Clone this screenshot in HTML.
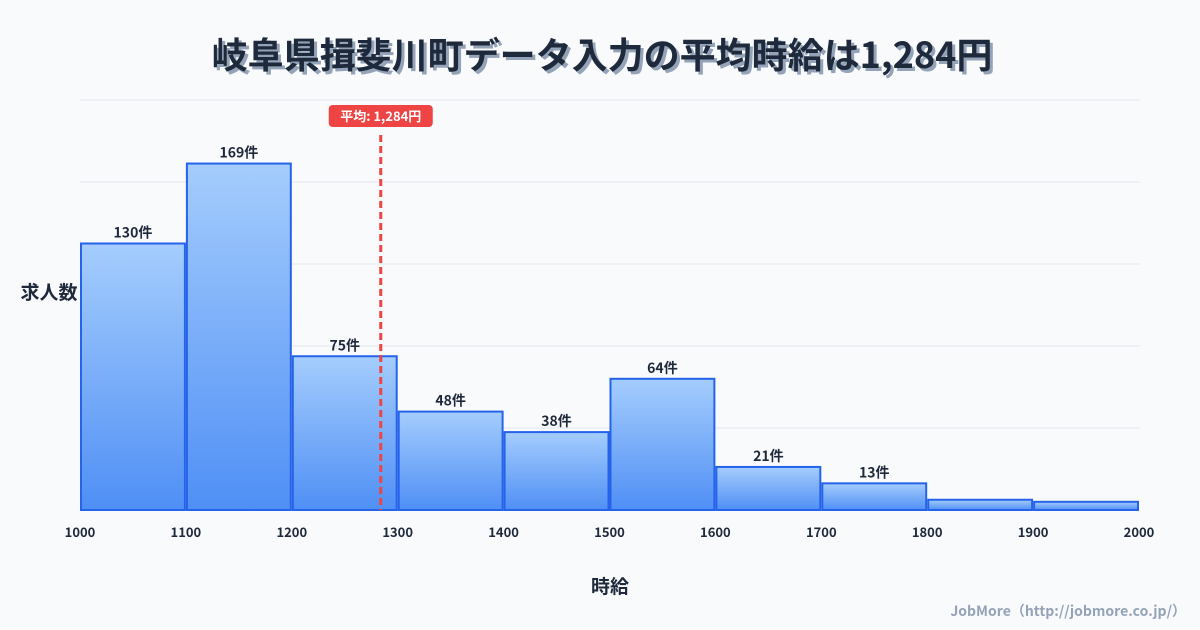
<!DOCTYPE html>
<html><head><meta charset="utf-8">
<style>
body{margin:0;background:#f8fafc;}
svg{display:block;font-family:"Liberation Sans","Noto Sans CJK JP",sans-serif;}
</style></head>
<body>
<svg id="chart" width="1200" height="630" viewBox="0 0 1200 630">
<defs>
<linearGradient id="bg" x1="0" y1="0" x2="0" y2="1">
<stop offset="0" stop-color="#a5cdfd"/><stop offset="1" stop-color="#4f8ff5"/>
</linearGradient>
</defs>
<rect width="1200" height="630" fill="#f8fafc"/>
<text x="602" y="68" text-anchor="middle" font-size="36" font-weight="bold" fill="#94a3b8" transform="translate(3,3)" font-family="'Noto Sans CJK JP',sans-serif">岐阜県揖斐川町データ入力の平均時給は1,284円</text>
<text x="602" y="68" text-anchor="middle" font-size="36" font-weight="bold" fill="#1e293b" font-family="'Noto Sans CJK JP',sans-serif">岐阜県揖斐川町データ入力の平均時給は1,284円</text>
<g id="grid"></g>
<g id="bars"></g>
<g id="xt"></g>
<text x="49" y="299" text-anchor="middle" font-size="19" font-weight="bold" fill="#1e293b" font-family="'Noto Sans CJK JP',sans-serif">求人数</text>
<text x="610" y="593" text-anchor="middle" font-size="19" font-weight="bold" fill="#1e293b" font-family="'Noto Sans CJK JP',sans-serif">時給</text>
<text x="1186" y="616" text-anchor="end" font-size="14" font-weight="bold" fill="#94a3b8" font-family="'Noto Sans CJK JP',sans-serif">JobMore（http://jobmore.co.jp/）</text>
<g id="mean"></g>
</svg>
<script>
const binStarts=[1000,1100,1200,1300,1400,1500,1600,1700,1800,1900];
const counts=[130,169,75,48,38,64,21,13,5,4];
const countLabels=["130件","169件","75件","48件","38件","64件","21件","13件","",""];
const xTicks=[1000,1100,1200,1300,1400,1500,1600,1700,1800,1900,2000];
const yGrid=[0,40,80,120,160,200];
const meanValue=1284;
const meanLabel="平均: 1,284円";
const NS="http://www.w3.org/2000/svg";
const X=v=>80+(v-1000)*(1059/1000);
const Y=v=>510-v*(410/200);
function mk(t,a,p){const e=document.createElementNS(NS,t);for(const k in a)e.setAttribute(k,a[k]);p.appendChild(e);return e;}
const g=document.getElementById('grid');
yGrid.forEach(v=>{const l=mk('line',{x1:80,x2:1140,y1:Y(v),y2:Y(v),stroke:'#e2e8f0','stroke-width':1},g);

});
const b=document.getElementById('bars');
binStarts.forEach((s,i)=>{
const x0=X(s)+1,x1=X(s+100)-1,y=Y(counts[i]);
const r=mk('rect',{x:x0,y:y,width:x1-x0,height:510-y,fill:'url(#bg)',stroke:'#2563eb','stroke-width':2},b);


if(countLabels[i]){const t=mk('text',{x:(x0+x1)/2,y:y-6,'text-anchor':'middle','font-size':14,'font-weight':'bold',fill:'#1e293b','font-family':"'Noto Sans CJK JP',sans-serif"},b);t.textContent=countLabels[i];

}
});
const xt=document.getElementById('xt');
xTicks.forEach(v=>{const t=mk('text',{x:X(v),y:537,'text-anchor':'middle','font-size':13,'font-weight':'bold',fill:'#1e293b','font-family':"'Noto Sans CJK JP',sans-serif"},xt);t.textContent=v;

});
const m=document.getElementById('mean');
const mx=X(meanValue);
const ml=mk('line',{x1:mx,x2:mx,y1:135,y2:510,stroke:'#ef4444','stroke-width':3,'stroke-dasharray':'7,4'},m);


const mr=mk('rect',{x:mx-52,y:105,width:104,height:22,rx:4,fill:'#ef4444'},m);


const mt=mk('text',{x:mx,y:121,'text-anchor':'middle','font-size':13,'font-weight':'bold',fill:'#fff','font-family':"'Noto Sans CJK JP',sans-serif"},m);
mt.textContent=meanLabel;


</script>
</body></html>
